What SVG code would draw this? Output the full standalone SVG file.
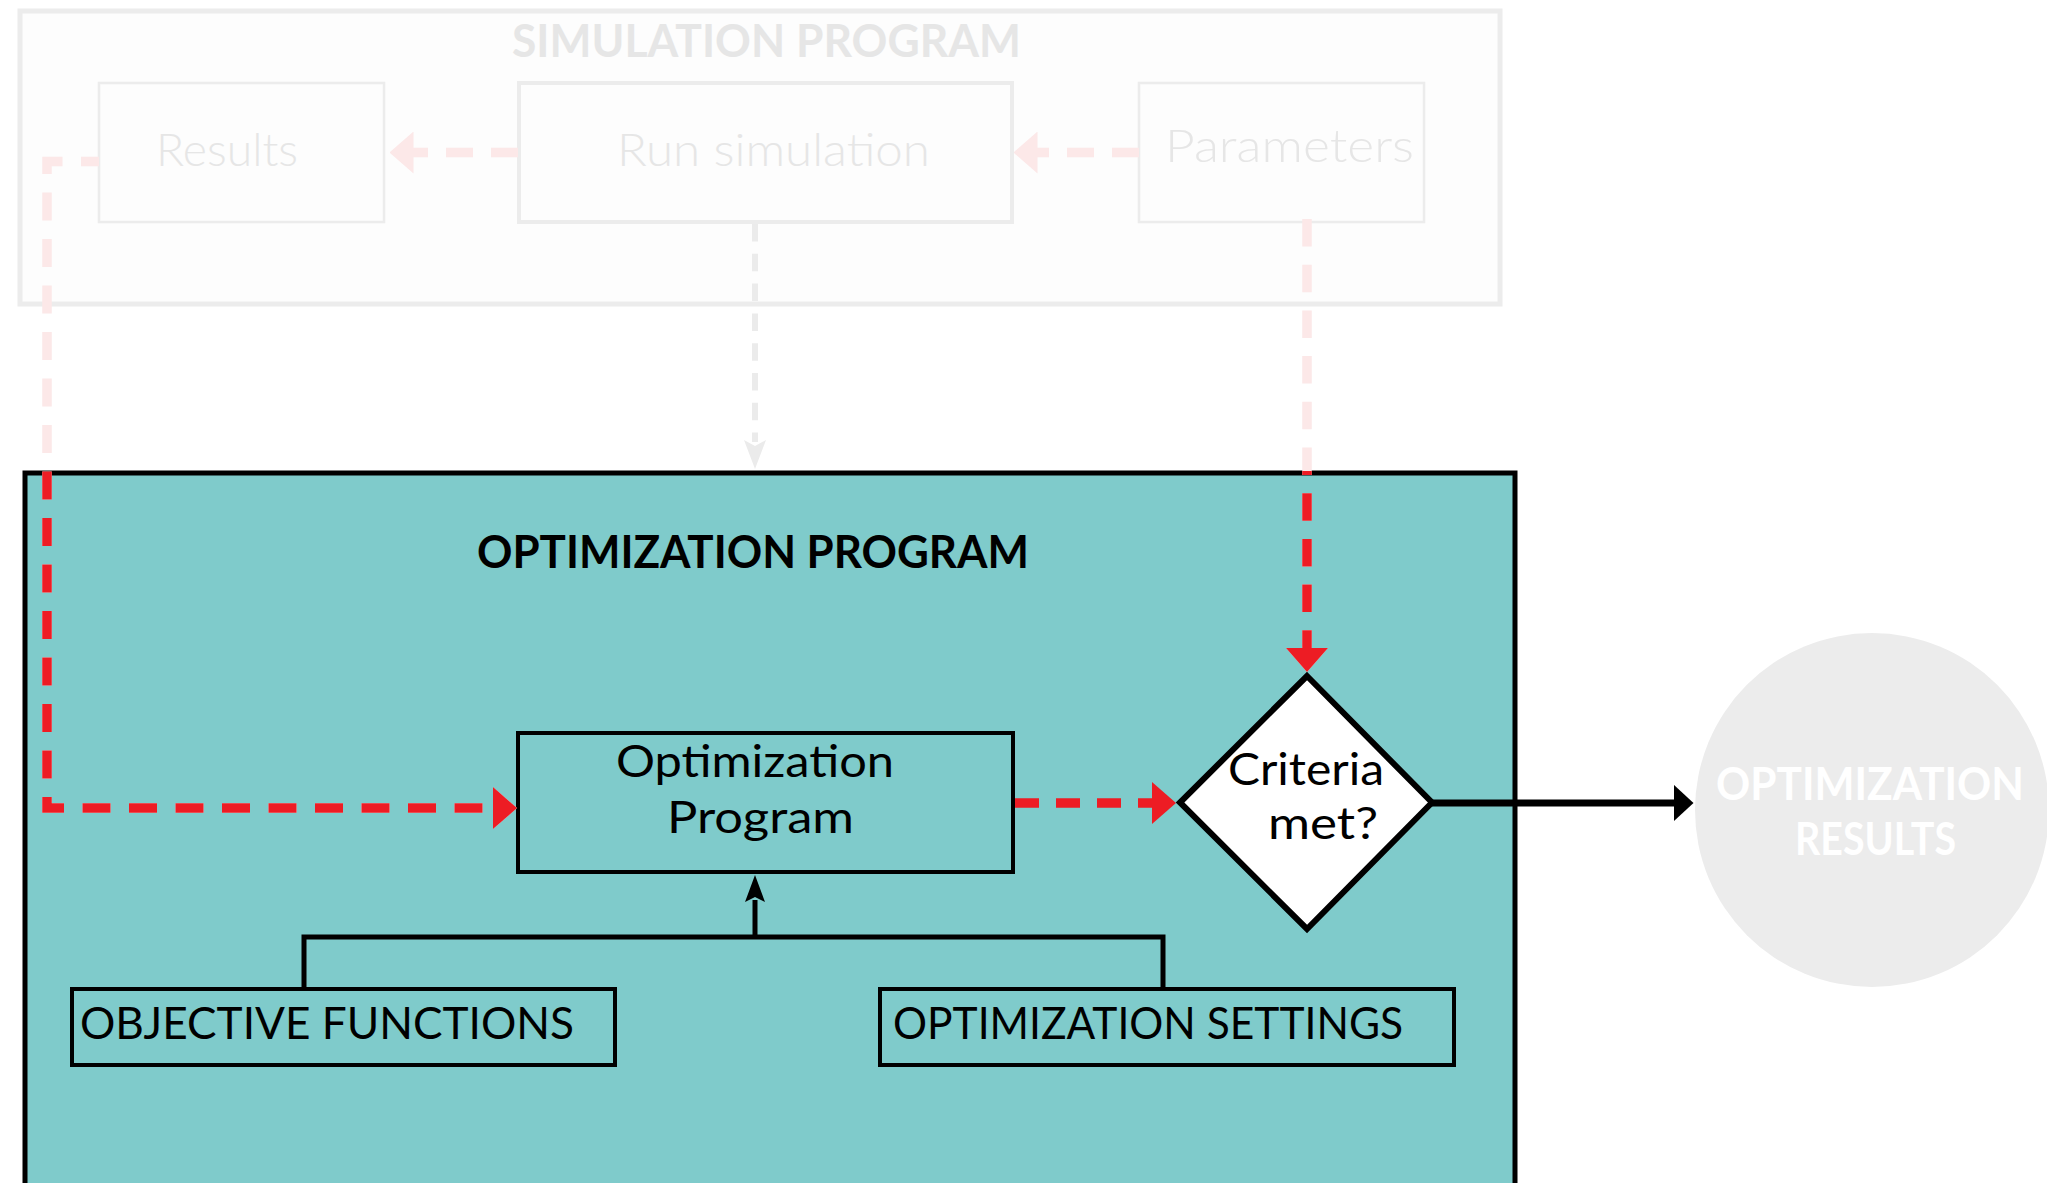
<svg xmlns="http://www.w3.org/2000/svg" width="2047" height="1183" viewBox="0 0 2047 1183">
  <style>
    .faded-box { fill: #fdfdfd; stroke: #ececec; }
    .faded-txt { font-family: Lato, "Liberation Sans", sans-serif; font-weight: 300; font-size: 45px; fill: #e6e6e6; }
    .title { font-family: Lato, "Liberation Sans", sans-serif; font-weight: 700; font-size: 46px; }
    .txt { font-family: Lato, "Liberation Sans", sans-serif; font-weight: 400; font-size: 45px; fill: #000; }
    .box { fill: none; stroke: #000; stroke-width: 4; }
    .red { fill: none; stroke: #ed1c24; stroke-width: 9.5; }
    .pink { fill: none; stroke: #fce8e8; stroke-width: 9.5; }
  </style>
  <defs>
    <marker id="arrRed" viewBox="0 0 24 42" refX="1" refY="21" markerWidth="24" markerHeight="42" markerUnits="userSpaceOnUse" orient="auto">
      <path d="M0,0 L24,21 L0,42 Z" fill="#ed1c24"/>
    </marker>
    <marker id="arrPink" viewBox="0 0 24 42" refX="1" refY="21" markerWidth="24" markerHeight="42" markerUnits="userSpaceOnUse" orient="auto">
      <path d="M0,0 L24,21 L0,42 Z" fill="#fce8e8"/>
    </marker>
    <marker id="arrGray" viewBox="0 0 29 22" refX="2" refY="11" markerWidth="29" markerHeight="22" markerUnits="userSpaceOnUse" orient="auto">
      <path d="M0,0 L29,11 L0,22 L6,11 Z" fill="#ebebeb"/>
    </marker>
    <marker id="arrStealth" viewBox="0 0 27 20" refX="2" refY="10" markerWidth="27" markerHeight="20" markerUnits="userSpaceOnUse" orient="auto">
      <path d="M0,0 L27,10 L0,20 L5,10 Z" fill="#000"/>
    </marker>
    <marker id="arrBlack" viewBox="0 0 20 37" refX="1" refY="18.5" markerWidth="20" markerHeight="37" markerUnits="userSpaceOnUse" orient="auto">
      <path d="M0,0 L20,18.5 L0,37 Z" fill="#000"/>
    </marker>
    <clipPath id="tealClip">
      <rect x="0" y="471" width="2047" height="712"/>
    </clipPath>
  </defs>

  <rect x="0" y="0" width="2047" height="1183" fill="#ffffff"/>

  <g id="simulation-program">
    <rect class="faded-box" x="20" y="11" width="1480" height="293" stroke-width="5"/>
    <text class="title" x="512" y="57" fill="#e6e6e6" font-size="47" textLength="509" lengthAdjust="spacingAndGlyphs">SIMULATION PROGRAM</text>
  </g>
  <g id="results">
    <rect class="faded-box" x="99" y="83" width="285" height="139" stroke-width="2.5"/>
    <text class="faded-txt" x="156" y="166" textLength="142" lengthAdjust="spacingAndGlyphs">Results</text>
  </g>
  <g id="run-simulation">
    <rect class="faded-box" x="519" y="83" width="493" height="139" stroke-width="4"/>
    <text class="faded-txt" x="617" y="166" textLength="313" lengthAdjust="spacingAndGlyphs">Run simulation</text>
  </g>
  <g id="parameters">
    <rect class="faded-box" x="1139" y="83" width="285" height="139" stroke-width="2.5"/>
    <text class="faded-txt" x="1165" y="162" font-size="46" textLength="249" lengthAdjust="spacingAndGlyphs">Parameters</text>
  </g>

  <g id="optimization-program-container">
    <rect x="25" y="473" width="1490" height="730" fill="#7fcbcb" stroke="#000" stroke-width="5"/>
    <text class="title" x="477" y="568" fill="#000" textLength="552" lengthAdjust="spacingAndGlyphs">OPTIMIZATION PROGRAM</text>
  </g>
  <g id="optimization-program">
    <rect class="box" x="518" y="733" width="495" height="139"/>
    <text class="txt" x="616" y="777" font-size="44" textLength="278" lengthAdjust="spacingAndGlyphs">Optimization</text>
    <text class="txt" x="667" y="833" font-size="44" textLength="187" lengthAdjust="spacingAndGlyphs">Program</text>
  </g>
  <g id="criteria-met">
    <polygon points="1307,676 1432,802.5 1307,929 1180,802.5" fill="#ffffff" stroke="#000" stroke-width="6"/>
    <text class="txt" x="1228" y="785" textLength="156" lengthAdjust="spacingAndGlyphs">Criteria</text>
    <text class="txt" x="1268" y="839" textLength="110" lengthAdjust="spacingAndGlyphs">met?</text>
  </g>
  <g id="objective-functions">
    <rect class="box" x="72" y="989" width="543" height="76"/>
    <text class="txt" x="80" y="1039" textLength="494" lengthAdjust="spacingAndGlyphs">OBJECTIVE FUNCTIONS</text>
  </g>
  <g id="optimization-settings">
    <rect class="box" x="880" y="989" width="574" height="76"/>
    <text class="txt" x="893" y="1039" textLength="510" lengthAdjust="spacingAndGlyphs">OPTIMIZATION SETTINGS</text>
  </g>
  <g id="optimization-results">
    <circle cx="1872" cy="810" r="177" fill="#ececec"/>
    <text class="title" x="1716" y="800" fill="#ffffff" textLength="308" lengthAdjust="spacingAndGlyphs">OPTIMIZATION</text>
    <text class="title" x="1795" y="855" fill="#ffffff" textLength="161" lengthAdjust="spacingAndGlyphs">RESULTS</text>
  </g>

  <g id="connectors">
    <!-- faded simulation flow -->
    <path class="pink" d="M518,152.5 H412.5" stroke-dasharray="27 18" marker-end="url(#arrPink)"/>
    <path class="pink" d="M1139,152.5 H1036.5" stroke-dasharray="27 18" marker-end="url(#arrPink)"/>
    <path d="M755,224 V442" fill="none" stroke="#ebebeb" stroke-width="6" stroke-dasharray="17.5 12.3" marker-end="url(#arrGray)"/>
    <!-- results back to optimization program -->
    <path class="pink" d="M99,161.5 H47 V808 H494" stroke-dasharray="28 18.5" stroke-dashoffset="10" marker-end="url(#arrPink)"/>
    <path class="red" d="M99,161.5 H47 V808 H494" stroke-dasharray="28 18.5" stroke-dashoffset="10" marker-end="url(#arrRed)" clip-path="url(#tealClip)"/>
    <!-- parameters to criteria -->
    <path class="pink" d="M1307,219 V649" stroke-dasharray="27.5 18.2" marker-end="url(#arrPink)"/>
    <path class="red" d="M1307,219 V649" stroke-dasharray="27.5 18.2" marker-end="url(#arrRed)" clip-path="url(#tealClip)"/>
    <!-- optimization program to criteria -->
    <path class="red" d="M1015,803 H1153" stroke-dasharray="24 17" marker-end="url(#arrRed)"/>
    <!-- criteria to results -->
    <path d="M1432,803 H1674.5" fill="none" stroke="#000" stroke-width="7" marker-end="url(#arrBlack)"/>
    <!-- inputs tree -->
    <path d="M304,989 V937 H1163 V989" fill="none" stroke="#000" stroke-width="5" stroke-linejoin="miter"/>
    <path d="M755,937 V900" fill="none" stroke="#000" stroke-width="5" marker-end="url(#arrStealth)"/>
  </g>
</svg>
